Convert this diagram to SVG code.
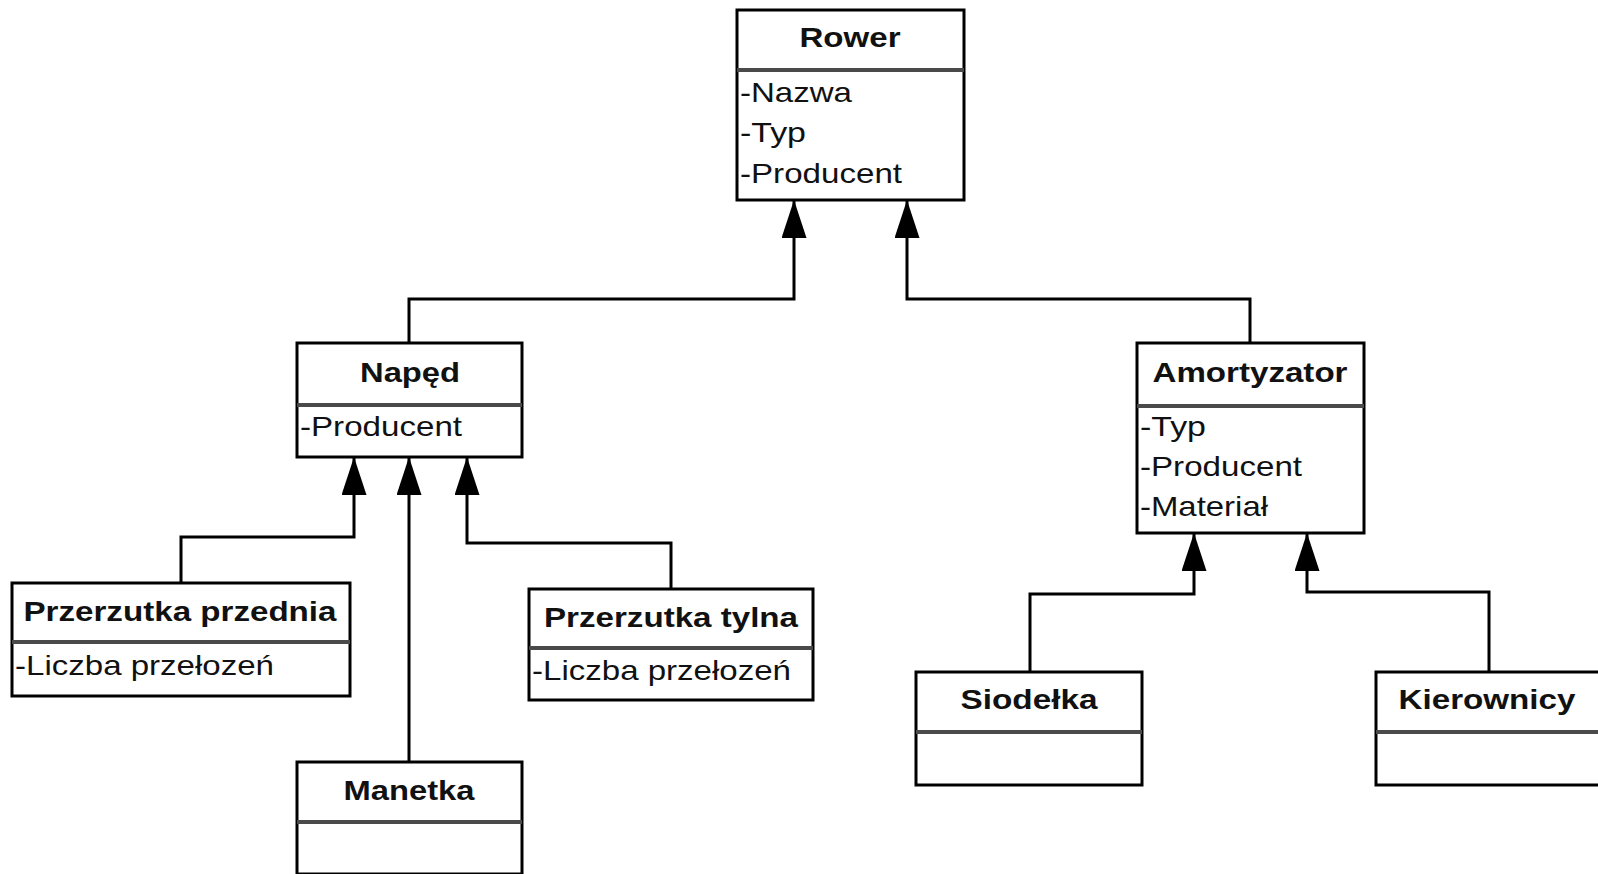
<svg xmlns="http://www.w3.org/2000/svg" width="1598" height="874" viewBox="0 0 1598 874">
<style>
.box{fill:#fff;stroke:#000;stroke-width:3}
.div{stroke:#4a4a4a;stroke-width:4}
.t{font-family:"Liberation Sans",Arial,sans-serif;font-weight:bold;font-size:28px;fill:#111;text-anchor:middle}
.a{font-family:"Liberation Sans",Arial,sans-serif;font-size:28px;fill:#111}
.c{fill:none;stroke:#000;stroke-width:3}
</style>
<defs>
<marker id="tri" markerUnits="userSpaceOnUse" viewBox="0 0 38 25" refX="38" refY="12.5" markerWidth="38" markerHeight="25" orient="auto">
<path d="M0,0 L38,12.5 L0,25 z" fill="#000"/>
</marker>
</defs>
<rect width="1598" height="874" fill="#fff"/>
<g id="connectors">
<path class="c" marker-end="url(#tri)" d="M409,343 V299 H794 V200"/>
<path class="c" marker-end="url(#tri)" d="M1250,343 V299 H907 V200"/>
<path class="c" marker-end="url(#tri)" d="M181,583 V537 H354 V457"/>
<path class="c" marker-end="url(#tri)" d="M409,762 V457"/>
<path class="c" marker-end="url(#tri)" d="M671,589 V543 H467 V457"/>
<path class="c" marker-end="url(#tri)" d="M1030,672 V594 H1194 V533"/>
<path class="c" marker-end="url(#tri)" d="M1489,672 V592 H1307 V533"/>
</g>
<g id="rower">
<rect class="box" x="737" y="10" width="227" height="190"/>
<line class="div" x1="737" y1="70" x2="964" y2="70"/>
<text class="t" x="850" y="47" textLength="101" lengthAdjust="spacingAndGlyphs">Rower</text>
<text class="a" x="740" y="102" textLength="112" lengthAdjust="spacingAndGlyphs">-Nazwa</text>
<text class="a" x="740" y="142" textLength="66" lengthAdjust="spacingAndGlyphs">-Typ</text>
<text class="a" x="740" y="183" textLength="162" lengthAdjust="spacingAndGlyphs">-Producent</text>
</g>
<g id="naped">
<rect class="box" x="297" y="343" width="225" height="114"/>
<line class="div" x1="297" y1="405" x2="522" y2="405"/>
<text class="t" x="410" y="382" textLength="100" lengthAdjust="spacingAndGlyphs">Napęd</text>
<text class="a" x="300" y="436" textLength="162" lengthAdjust="spacingAndGlyphs">-Producent</text>
</g>
<g id="amortyzator">
<rect class="box" x="1137" y="343" width="227" height="190"/>
<line class="div" x1="1137" y1="406" x2="1364" y2="406"/>
<text class="t" x="1250" y="382" textLength="195" lengthAdjust="spacingAndGlyphs">Amortyzator</text>
<text class="a" x="1140" y="436" textLength="66" lengthAdjust="spacingAndGlyphs">-Typ</text>
<text class="a" x="1140" y="476" textLength="162" lengthAdjust="spacingAndGlyphs">-Producent</text>
<text class="a" x="1140" y="516" textLength="128" lengthAdjust="spacingAndGlyphs">-Materiał</text>
</g>
<g id="przerzutka-przednia">
<rect class="box" x="12" y="583" width="338" height="113"/>
<line class="div" x1="12" y1="642" x2="350" y2="642"/>
<text class="t" x="180" y="621" textLength="313" lengthAdjust="spacingAndGlyphs">Przerzutka przednia</text>
<text class="a" x="15" y="675" textLength="259" lengthAdjust="spacingAndGlyphs">-Liczba przełozeń</text>
</g>
<g id="przerzutka-tylna">
<rect class="box" x="529" y="589" width="284" height="111"/>
<line class="div" x1="529" y1="648" x2="813" y2="648"/>
<text class="t" x="671" y="627" textLength="254" lengthAdjust="spacingAndGlyphs">Przerzutka tylna</text>
<text class="a" x="532" y="680" textLength="259" lengthAdjust="spacingAndGlyphs">-Liczba przełozeń</text>
</g>
<g id="manetka">
<rect class="box" x="297" y="762" width="225" height="112"/>
<line class="div" x1="297" y1="822" x2="522" y2="822"/>
<text class="t" x="409" y="800" textLength="131" lengthAdjust="spacingAndGlyphs">Manetka</text>
</g>
<g id="siodelka">
<rect class="box" x="916" y="672" width="226" height="113"/>
<line class="div" x1="916" y1="732" x2="1142" y2="732"/>
<text class="t" x="1029" y="709" textLength="137" lengthAdjust="spacingAndGlyphs">Siodełka</text>
</g>
<g id="kierownicy">
<rect class="box" x="1376" y="672" width="227" height="113"/>
<line class="div" x1="1376" y1="732" x2="1603" y2="732"/>
<text class="t" x="1487" y="709" textLength="177" lengthAdjust="spacingAndGlyphs">Kierownicy</text>
</g>
</svg>
